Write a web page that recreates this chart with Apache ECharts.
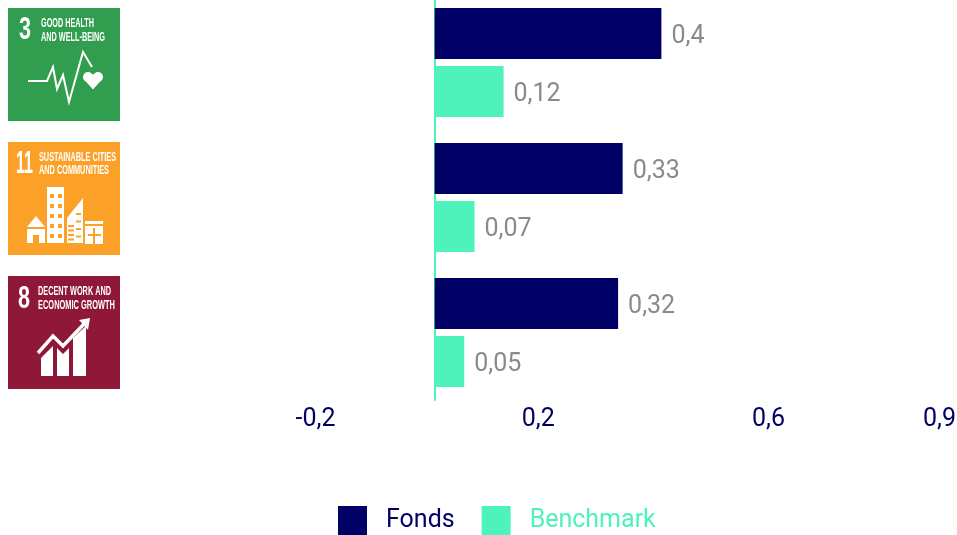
<!DOCTYPE html>
<html>
<head>
<meta charset="utf-8">
<style>
  html, body { margin: 0; padding: 0; background: #fff; }
  #chart { width: 957px; height: 535px; }
</style>
<script src="https://cdn.jsdelivr.net/npm/echarts@6/dist/echarts.min.js"></script>
</head>
<body>
<div id="chart"></div>
<script>
const goals = ['3', '11', '8'];
const fondsValues = [0.398, 0.33, 0.322];
const benchmarkValues = [0.121, 0.07, 0.052];
const axisTickValues = [-0.209, 0.182, 0.586, 0.886];

const NAVY = '#000066';
const TEAL = '#4df3ba';
const FONT = 'Roboto, sans-serif';
const ICON_FONT = '"Liberation Sans Narrow", "Liberation Sans", sans-serif';

function commaNumber(value, digits) {
  return String(Number(value.toFixed(digits))).replace('.', ',');
}

const chart = echarts.init(document.getElementById('chart'), null, { renderer: 'canvas' });

function barSeries(name, values, color) {
  return {
    name: name,
    type: 'bar',
    data: values,
    barWidth: 51,
    barGap: '13.7%',
    itemStyle: { color: color },
    label: {
      show: true,
      position: 'right',
      distance: 10,
      offset: [0, 3],
      color: '#8a8a8a',
      fontFamily: FONT,
      fontSize: 25,
      formatter: params => commaNumber(params.value, 2)
    }
  };
}

chart.setOption({
  animation: false,
  grid: { left: 315.5, right: 17.5, top: -5, height: 405, outerBoundsMode: 'none' },
  xAxis: {
    type: 'value',
    min: axisTickValues[0],
    max: axisTickValues[axisTickValues.length - 1],
    axisLine: { show: false },
    axisTick: { show: false },
    splitLine: { show: false },
    axisLabel: {
      customValues: axisTickValues,
      margin: 7,
      color: NAVY,
      fontFamily: FONT,
      fontSize: 25,
      formatter: value => commaNumber(value, 1)
    }
  },
  yAxis: {
    type: 'category',
    data: goals,
    inverse: true,
    axisLine: { show: true, onZero: true, lineStyle: { color: TEAL, width: 2 } },
    axisTick: { show: false },
    axisLabel: { show: false }
  },
  legend: {
    left: 338,
    top: 506,
    padding: 0,
    icon: 'rect',
    itemWidth: 29,
    itemHeight: 29,
    itemGap: 27,
    selectedMode: false,
    textStyle: {
      color: 'inherit',
      fontFamily: FONT,
      fontSize: 25,
      padding: [2, 0, 0, 14]
    },
    data: ['Fonds', 'Benchmark']
  },
  series: [
    barSeries('Fonds', fondsValues, NAVY),
    barSeries('Benchmark', benchmarkValues, TEAL)
  ]
});

// SDG tiles, drawn in local coordinates of a 112 x 113 square
function poly(points, fill) {
  return { type: 'polygon', shape: { points: points }, style: { fill: fill || '#fff' } };
}

function box(x, y, width, height, fill) {
  return { type: 'rect', shape: { x: x, y: y, width: width, height: height }, style: { fill: fill || '#fff' } };
}

function dot(cx, cy, r) {
  return { type: 'circle', shape: { cx: cx, cy: cy, r: r }, style: { fill: '#fff' } };
}

function line(points, width) {
  return {
    type: 'polyline',
    shape: { points: points },
    style: { stroke: '#fff', lineWidth: width, fill: null, lineJoin: 'miter' }
  };
}

const measureContext = document.createElement('canvas').getContext('2d');

// the tile lettering is very condensed, so squeeze each text to its width in the picture
function tileText(text, x, y, fontSize, width) {
  const font = 'bold ' + fontSize + 'px ' + ICON_FONT;
  measureContext.font = font;
  return {
    type: 'text',
    x: x,
    y: y,
    scaleX: width / measureContext.measureText(text).width,
    style: { text: text, fill: '#fff', font: font, verticalAlign: 'middle' }
  };
}

function healthShapes() {
  return [
    line([[20, 73], [39, 73], [45, 59], [49, 81], [55, 67], [61, 94], [75, 44], [84, 59]], 2),
    dot(80, 69, 5),
    dot(90, 69, 5),
    poly([[75.6, 71], [85, 81.5], [94.4, 71], [85, 66]])
  ];
}

function citiesShapes() {
  const orange = '#fca128';
  const shapes = [
    box(39, 45, 17, 56),
    poly([[19, 85], [28, 74], [37, 85]]),
    box(19, 87, 18, 14),
    box(25, 93, 6, 8, orange),
    poly([[59, 76], [75, 56], [75, 101], [59, 101]]),
    box(77, 79, 18, 23),
    box(77, 82, 18, 2, orange)
  ];
  for (let row = 0; row < 5; row++) {
    shapes.push(box(42, 52 + row * 10, 4, 4, orange), box(50, 52 + row * 10, 4, 4, orange));
  }
  for (let row = 0; row < 4; row++) {
    shapes.push(box(60, 83 + row * 4.5, 6, 2, orange), box(68, 71 + row * 7.5, 5, 2, orange));
  }
  shapes.push(box(85, 86, 2, 16, orange), box(80, 92, 13, 2, orange));
  return shapes;
}

function growthShapes() {
  return [
    poly([[33, 82], [45, 70], [45, 100], [33, 100]]),
    poly([[49, 72], [55, 78], [61, 72], [61, 100], [49, 100]]),
    poly([[65, 62], [78, 50], [78, 100], [65, 100]]),
    line([[30, 77], [45, 60], [55, 70], [76, 48]], 3.5),
    poly([[71, 44], [82, 42], [80, 54]])
  ];
}

const tiles = [
  {
    color: '#309e4e',
    children: healthShapes().concat([
      tileText('3', 11, 22, 31, 12),
      tileText('GOOD HEALTH', 33, 15, 13, 53),
      tileText('AND WELL-BEING', 33, 29, 13, 64)
    ])
  },
  {
    color: '#fca128',
    children: citiesShapes().concat([
      tileText('11', 8, 22, 31, 17),
      tileText('SUSTAINABLE CITIES', 31, 15, 13, 77),
      tileText('AND COMMUNITIES', 31, 28, 13, 70)
    ])
  },
  {
    color: '#8f1838',
    children: growthShapes().concat([
      tileText('8', 10, 23, 31, 12),
      tileText('DECENT WORK AND', 30, 15, 13, 73),
      tileText('ECONOMIC GROWTH', 30, 29, 13, 77)
    ])
  }
];

chart.setOption({
  graphic: tiles.map((tile, index) => ({
    type: 'group',
    x: 8,
    y: 8 + index * 134,
    children: [box(0, 0, 112, 113, tile.color)].concat(tile.children)
  }))
});
</script>
</body>
</html>
